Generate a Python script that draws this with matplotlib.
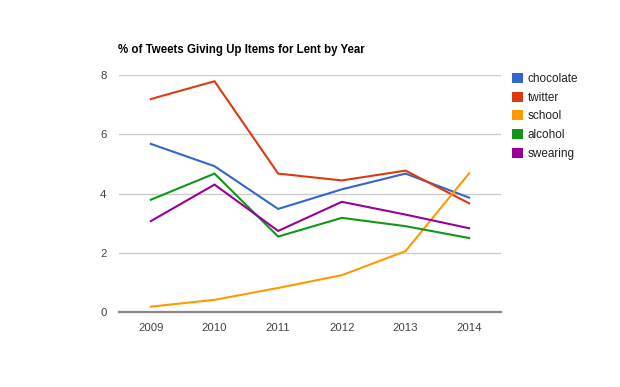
import matplotlib
matplotlib.use("Agg")
import matplotlib.pyplot as plt
from matplotlib.patches import Patch

plt.rcParams['font.family'] = ['Liberation Sans', 'DejaVu Sans']

years = ['2009', '2010', '2011', '2012', '2013', '2014']
chocolate = [5.67, 4.92, 3.48, 4.14, 4.67, 3.86]
twitter = [7.18, 7.78, 4.67, 4.44, 4.77, 3.67]
school = [0.19, 0.42, 0.82, 1.25, 2.06, 4.68]
alcohol = [3.79, 4.67, 2.55, 3.18, 2.90, 2.50]
swearing = [3.07, 4.30, 2.74, 3.72, 3.29, 2.83]

series = [('chocolate', chocolate, '#3366cc'),
          ('twitter', twitter, '#dc3912'),
          ('school', school, '#ff9900'),
          ('alcohol', alcohol, '#109618'),
          ('swearing', swearing, '#990099')]

fig = plt.figure(figsize=(6.2, 3.87), dpi=100)
ax = fig.add_axes([119/620, 1 - 312.3/387, (501-119)/620, (312.3-74.7)/387])

x = list(range(len(years)))
for name, vals, col in series:
    ax.plot(x, vals, color=col, lw=1.5, label=name, solid_joinstyle='miter')

ax.set_xlim(-0.5, len(years) - 0.5)
ax.set_ylim(0, 8)
ax.set_yticks([0, 2, 4, 6, 8])
ax.set_xticks(x)
ax.set_xticklabels(years)
ax.grid(axis='y', color='#cccccc', lw=1)
ax.set_axisbelow(True)
for s in ['top', 'right', 'left']:
    ax.spines[s].set_visible(False)
ax.spines['bottom'].set_color('#888888')
ax.spines['bottom'].set_linewidth(1.6)
ax.tick_params(axis='both', length=0, labelsize=8.2, colors='#444444')
ax.tick_params(axis='y', pad=9)
ax.tick_params(axis='x', pad=8)

fig.text(118/620, 1 - 50/387, '% of Tweets Giving Up Items for Lent by Year',
         fontsize=8.3, fontweight='bold', color='#000000', va='center', ha='left')

handles = [Patch(facecolor=c, edgecolor='none', label=n) for n, v, c in series]
leg = fig.legend(handles=handles, loc='upper left',
                 bbox_to_anchor=(512/620, 1 - 73/387), frameon=False,
                 fontsize=8.5, handlelength=0.95, handleheight=0.95,
                 handletextpad=0.4, labelspacing=0.55, borderaxespad=0,
                 borderpad=0)
for t in leg.get_texts():
    t.set_color('#222222')

fig.savefig('out.png', dpi=100)
